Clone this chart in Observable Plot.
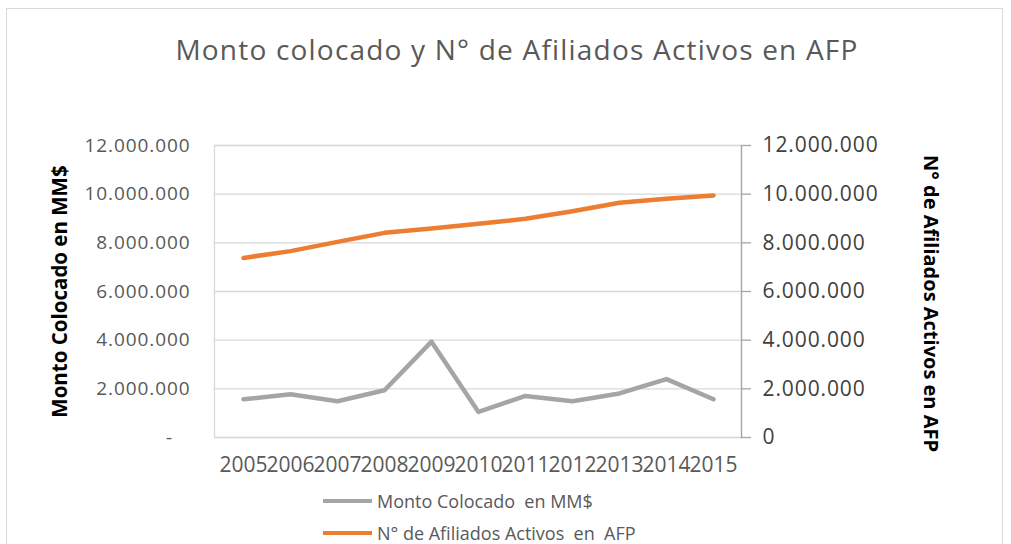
<!DOCTYPE html>
<html><head><meta charset="utf-8">
<script src="https://cdn.jsdelivr.net/npm/d3@7"></script>
<script src="https://cdn.jsdelivr.net/npm/@observablehq/plot@0.6"></script>
<style>
body{margin:0;background:#fff;font-family:"Open Sans",sans-serif;}
#wrap{position:relative;width:1011px;height:544px;overflow:hidden;}
#border{position:absolute;left:6px;top:8px;width:997px;height:580px;border:1.5px solid #d9d9d9;box-sizing:border-box;}
#title{position:absolute;top:30px;left:0;width:1034px;text-align:center;font-size:28px;color:#595959;letter-spacing:1.2px;}
#chart{position:absolute;left:0;top:0;}
#legend{position:absolute;left:323px;top:485px;font-size:18px;color:#595959;}
.item{display:flex;align-items:center;height:32px;white-space:pre;}
.sw{width:49px;height:4px;margin-right:5px;}
</style></head>
<body>
<div id="wrap">
<div id="border"></div>
<div id="title">Monto colocado y N° de Afiliados Activos en AFP</div>
<div id="chart"></div>
<div id="legend"></div>
</div>
<script>
const years = ["2005","2006","2007","2008","2009","2010","2011","2012","2013","2014","2015"];
const montoColocado = [1570000, 1780000, 1490000, 1940000, 3940000, 1050000, 1710000, 1490000, 1810000, 2400000, 1570000];
const afiliadosActivos = [7380000, 7660000, 8040000, 8410000, 8590000, 8780000, 8990000, 9300000, 9650000, 9810000, 9950000];
const yTicks = [0, 2000000, 4000000, 6000000, 8000000, 10000000, 12000000];
const seriesNames = ["Monto Colocado  en MM$", "N° de Afiliados Activos  en  AFP"];
const seriesColors = ["#a5a5a5", "#ed7d31"];
const leftTitle = "Monto Colocado en MM$";
const rightTitle = "N° de Afiliados Activos en AFP";

const table = years.map((y, i) => ({year: y, monto: montoColocado[i], afiliados: afiliadosActivos[i]}));
const fmt = d3.formatLocale({decimal: ",", thousands: ".", grouping: [3], currency: ["$", ""]}).format(",d");

const chart = Plot.plot({
  width: 1011, height: 490,
  marginTop: 145, marginBottom: 53, marginLeft: 214, marginRight: 270,
  style: {fontFamily: "Open Sans, sans-serif", background: "transparent", overflow: "visible"},
  x: {type: "point", domain: years, padding: 0.5},
  y: {domain: [0, 12000000]},
  marks: [
    Plot.gridY(yTicks, {stroke: "#d9d9d9", strokeOpacity: 1, strokeWidth: 1.3}),
    Plot.frame({stroke: "#d9d9d9", strokeWidth: 1.3}),
    Plot.frame({anchor: "right", stroke: "#a6a6a6", strokeWidth: 1.3}),
    Plot.axisX({tickSize: 0, tickPadding: 20, fontSize: 21, fill: "#595959", label: null}),
    Plot.axisY(yTicks, {anchor: "left", tickSize: 0, tickPadding: 24, fontSize: 19, fill: "#595959", label: null,
      tickFormat: v => v === 0 ? "-\u00a0\u00a0\u00a0" : fmt(v)}),
    Plot.axisY(yTicks, {anchor: "right", tickSize: 9, tickPadding: 12, fontSize: 21, fill: "#404040", stroke: "#a6a6a6", strokeWidth: 1.3, label: null,
      tickFormat: v => fmt(v)}),
    Plot.line(table, {x: "year", y: "monto", stroke: seriesColors[0], strokeWidth: 4.5, strokeLinejoin: "round"}),
    Plot.line(table, {x: "year", y: "afiliados", stroke: seriesColors[1], strokeWidth: 4.5, strokeLinejoin: "round"}),
    Plot.text([leftTitle], {text: d => d, frameAnchor: "left", textAnchor: "middle", dx: -154, rotate: -90, fontSize: 20.5, fontWeight: "bold", fill: "#000"}),
    Plot.text([rightTitle], {text: d => d, frameAnchor: "right", textAnchor: "middle", dx: 189, dy: 12, rotate: 90, fontSize: 20, fontWeight: "bold", fill: "#000"})
  ]
});
document.getElementById("chart").appendChild(chart);
const s = d3.select(chart);
s.selectAll('g[aria-label="y-axis tick label"] text').style("letter-spacing", "0.9px");

const lg = d3.select("#legend");
seriesNames.forEach((n, i) => {
  const it = lg.append("div").attr("class", "item");
  it.append("div").attr("class", "sw").style("background", seriesColors[i]);
  it.append("span").text(n);
});
</script>
</body></html>
